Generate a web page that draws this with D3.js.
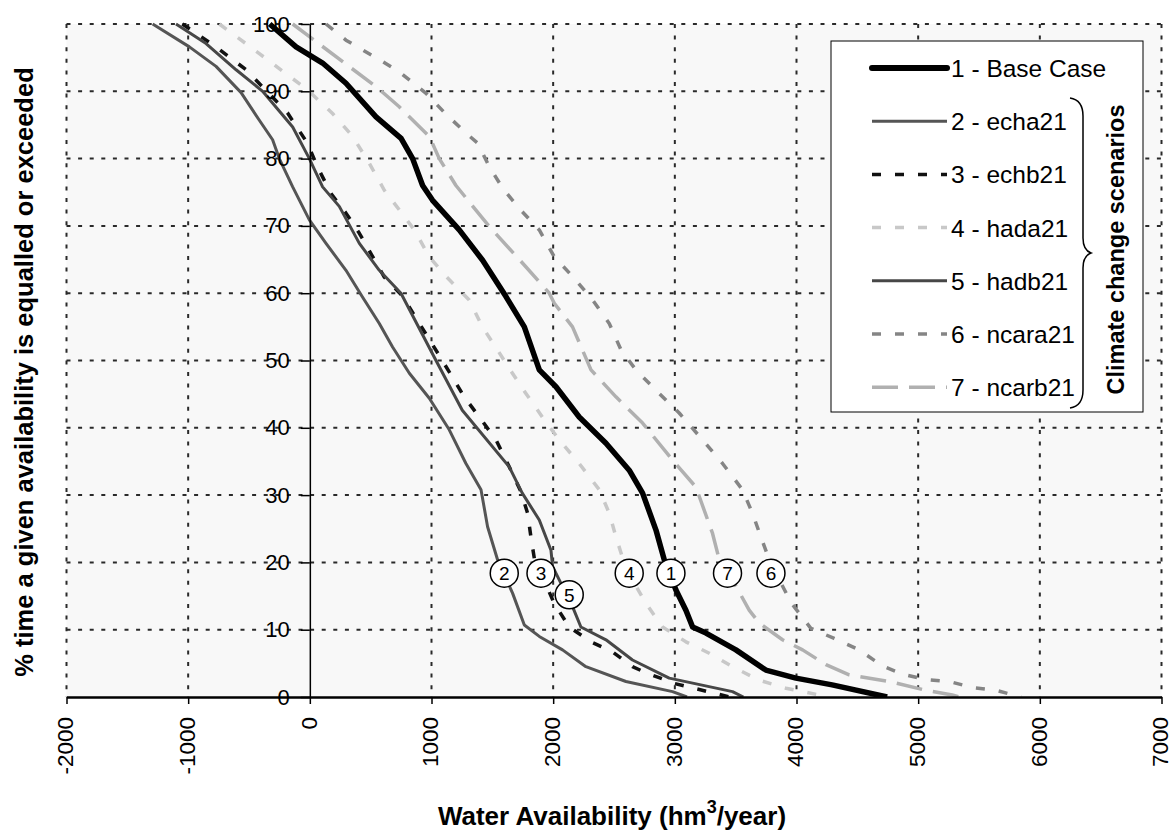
<!DOCTYPE html>
<html>
<head>
<meta charset="utf-8">
<style>
    body { margin: 0; background: #fff; }
    text { font-family: Arial, "Liberation Sans", sans-serif; }
    .grid line { stroke: #2a2a2a; stroke-width: 2; stroke-dasharray: 4, 7.6; }
    .axis path, .axis line { stroke: #000; }
</style>
<script src="https://d3js.org/d3.v7.min.js"></script>
</head>
<body>
<svg width="1173" height="831"></svg>
<script>

// each series: [water availability (hm3/year), % time equalled or exceeded]
var baseCase = [[-330,100],[-113,96.6],[105,94.2],[297,91.2],[544,86.2],[750,83],[845,80],[927,76],[1009,73.8],
    [1228,69.4],[1420,64.9],[1612,59.5],[1763,55],[1886,48.6],[2023,46.1],[2214,41.6],[2434,37.7],[2625,33.7],
    [2735,30.3],[2845,24.8],[2913,20.4],[3009,15.9],[3091,12.9],[3146,10.4],[3256,9.5],[3502,7],[3748,4],
    [3995,2.8],[4293,1.8],[4745,0]];
var echa21 = [[-1292,100],[-990,96.6],[-771,93.7],[-565,89.8],[-415,85.7],[-306,82.8],[-251,80],[-141,75.8],
    [-4,70.9],[133,67.4],[297,63.4],[430,59.5],[571,55.5],[680,52],[818,48.1],[982,44.4],[1146,39.7],[1283,34.7],
    [1407,30.8],[1461,25.3],[1543,20.4],[1667,15.4],[1763,10.7],[1886,9],[2077,7],[2269,4.5],[2598,2.3],
    [2981,0.8],[3100,0]];
var echb21 = [[-1048,100],[-771,96.6],[-524,93.2],[-184,86.8],[-20,82.3],[62,78.8],[174,74.8],[297,71.9],
    [407,68.9],[612,62.4],[760,59.6],[1089,50],[1269,44.6],[1393,41.6],[1530,38.2],[1639,34.2],[1735,30.5],
    [1790,27.3],[1817,23.8],[1845,20.6],[2009,13.9],[2132,10.4],[2311,8.2],[2488,6.7],[2652,4.5],[2776,3.5],
    [3000,2],[3450,0]];
var hada21 = [[-744,100],[-415,95.6],[-18,90.2],[187,86.7],[352,83.3],[489,79.3],[612,75.3],[735,72.4],
    [859,69.4],[982,65.4],[1119,62.5],[1310,59],[1418,55],[1541,51.6],[1665,48.1],[1776,45.1],[1911,41.6],
    [2050,38.2],[2214,34.7],[2379,30.8],[2461,27.3],[2516,23.8],[2600,19],[2763,13.9],[2899,10.4],[3091,8.2],
    [3283,6.5],[3474,4.5],[3693,2.5],[3913,1.3],[4268,0]];
var hadb21 = [[-1100,100],[-853,97.1],[-606,93.2],[-388,90],[-141,84.7],[-4,80],[105,75.8],[242,72.9],
    [407,67.4],[571,63.4],[749,60],[1037,50],[1253,42.6],[1639,34.2],[1746,30.3],[1886,26.3],[1982,21.8],
    [1995,19.4],[2105,15.4],[2160,13.4],[2228,10.4],[2434,8.5],[2652,5.5],[2954,2.8],[3474,0.8],[3563,0]];
var ncara21 = [[133,100],[297,97.6],[571,94.7],[735,92.9],[955,89.7],[1119,86.6],[1283,83.8],[1379,82.3],
    [1475,78.8],[1585,75.6],[1721,72.6],[1886,69.4],[2009,65.4],[2159,62.5],[2324,59],[2461,55.5],[2557,51.6],
    [2680,48.6],[2899,44.6],[3036,42.2],[3228,38.2],[3392,34.7],[3556,30.8],[3638,27.3],[3707,23.8],[3776,20.4],
    [3870,17],[3960,13.9],[4118,10.2],[4310,8.7],[4515,7],[4707,4.6],[4871,3.4],[5063,2.6],[5255,2.3],
    [5447,1.4],[5638,1],[5846,0]];
var ncarb21 = [[-141,100],[270,94.4],[544,90.7],[735,87.7],[982,83.3],[1064,80],[1201,76],[1475,69.9],
    [1777,63.9],[1968,60],[2009,58.5],[2159,55],[2311,48.6],[2516,44.6],[2735,40.7],[2981,35.2],[3173,31.2],
    [3310,24.3],[3365,20.4],[3474,17.4],[3611,12.9],[3693,11],[3885,8.5],[4050,7],[4242,4.8],[4433,3.3],
    [4762,2.3],[5063,1],[5280,0.3],[5336,0]];

var seriesNames = ["1 - Base Case", "2 - echa21", "3 - echb21", "4 - hada21", "5 - hadb21", "6 - ncara21", "7 - ncarb21"];
var seriesData = [baseCase, echa21, echb21, hada21, hadb21, ncara21, ncarb21];

// circled curve labels
var labelText = ["2", "3", "5", "4", "1", "7", "6"];
var labelX = [1598, 1900, 2132, 2625, 2968, 3433, 3790];
var labelP = [18.4, 18.4, 15.2, 18.4, 18.4, 18.4, 18.4];

var xTicks = d3.range(-2000, 7001, 1000);
var yTicks = d3.range(0, 101, 10);

var styles = [
    {color: "#000",    width: 5.5, dash: null},
    {color: "#555",    width: 3,   dash: null},
    {color: "#111",    width: 3.5, dash: "9,14"},
    {color: "#c8c8c8", width: 3.5, dash: "9,14"},
    {color: "#474747", width: 3,   dash: null},
    {color: "#858585", width: 3.5, dash: "9,14"},
    {color: "#b0b0b0", width: 3.5, dash: "26,11"}
];

var svg = d3.select("svg");

var x = d3.scaleLinear().domain([-2000, 7000]).range([66.5, 1161.5]),
    y = d3.scaleLinear().domain([0, 100]).range([697, 24]);

svg.append("rect")
    .attr("x", x(-2000)).attr("y", y(100))
    .attr("width", x(7000) - x(-2000)).attr("height", y(0) - y(100))
    .attr("fill", "#f8f8f8");

svg.append("clipPath").attr("id", "plot")
  .append("rect")
    .attr("x", x(-2000)).attr("y", y(100) - 3)
    .attr("width", x(7000) - x(-2000)).attr("height", y(0) - y(100) + 3);

// dotted grid
var grid = svg.append("g").attr("class", "grid");
grid.selectAll(".h").data(yTicks.filter(function(d) { return d > 0; }))
  .enter().append("line")
    .attr("x1", x(-2000)).attr("x2", x(7000))
    .attr("y1", function(d) { return y(d); })
    .attr("y2", function(d) { return y(d); });
grid.selectAll(".v").data(xTicks.filter(function(d) { return d !== 0; }))
  .enter().append("line")
    .attr("x1", function(d) { return x(d); })
    .attr("x2", function(d) { return x(d); })
    .attr("y1", y(100)).attr("y2", y(0));

// curves
var line = d3.line()
    .x(function(d) { return x(d[0]); })
    .y(function(d) { return y(d[1]); });

svg.append("g").attr("clip-path", "url(#plot)")
  .selectAll("path")
  .data(seriesData)
  .enter().append("path")
    .attr("fill", "none")
    .attr("stroke", function(d, i) { return styles[i].color; })
    .attr("stroke-width", function(d, i) { return styles[i].width; })
    .attr("stroke-dasharray", function(d, i) { return styles[i].dash; })
    .attr("stroke-linejoin", "round")
    .attr("d", line);

// axes through the origin
var plainNum = function(d) { return String(d); };

var yAxis = svg.append("g")
    .attr("class", "axis")
    .attr("transform", "translate(" + x(0) + ",0)")
    .call(d3.axisLeft(y).tickValues(yTicks).tickFormat(plainNum).tickSize(9).tickSizeOuter(0).tickPadding(11));
yAxis.select(".domain").attr("stroke-width", 1.5);
yAxis.selectAll(".tick line").attr("stroke-width", 1.5);
yAxis.selectAll("text").attr("font-size", 22).attr("fill", "#000")
    .attr("font-family", "Arial, 'Liberation Sans', sans-serif");

var xAxis = svg.append("g")
    .attr("class", "axis")
    .attr("transform", "translate(0," + y(0) + ")")
    .call(d3.axisBottom(x).tickValues(xTicks).tickFormat(plainNum).tickSize(7).tickSizeOuter(0));
xAxis.select(".domain").attr("stroke-width", 2.5);
xAxis.selectAll(".tick line").attr("stroke-width", 1.5);
xAxis.selectAll("text")
    .attr("font-size", 22.5).attr("fill", "#000")
    .attr("font-family", "Arial, 'Liberation Sans', sans-serif")
    .attr("transform", "rotate(-90)")
    .attr("text-anchor", "end")
    .attr("x", -20).attr("y", 0).attr("dy", "0.28em");

// circled labels
var labels = svg.selectAll(".lbl")
    .data(labelText)
  .enter().append("g")
    .attr("transform", function(d, i) { return "translate(" + x(labelX[i]) + "," + y(labelP[i]) + ")"; });
labels.append("circle").attr("r", 14).attr("fill", "#fff").attr("stroke", "#000").attr("stroke-width", 1.5);
labels.append("text")
    .attr("text-anchor", "middle").attr("dy", "0.36em")
    .attr("font-size", 19)
    .text(function(d) { return d; });

// legend
var legend = svg.append("g");
legend.append("rect")
    .attr("x", 831).attr("y", 41).attr("width", 312).attr("height", 371)
    .attr("fill", "#fff").attr("stroke", "#000").attr("stroke-width", 1);

var entry = legend.selectAll(".entry")
    .data(seriesNames)
  .enter().append("g")
    .attr("transform", function(d, i) { return "translate(0," + (68 + i * 53.2) + ")"; });
entry.append("line")
    .attr("x1", 872).attr("x2", 947)
    .attr("stroke", function(d, i) { return styles[i].color; })
    .attr("stroke-width", function(d, i) { return i === 0 ? 6 : styles[i].width; })
    .attr("stroke-dasharray", function(d, i) { return styles[i].dash; })
    .attr("stroke-linecap", function(d, i) { return i === 0 ? "round" : "butt"; });
entry.append("text")
    .attr("x", 951).attr("y", 9)
    .attr("font-size", 24.5)
    .text(function(d) { return d; });

legend.append("path")
    .attr("d", "M1070,98 Q1083,100 1083,116 L1083,238 Q1083,250 1091,253 Q1083,256 1083,268 L1083,390 Q1083,406 1070,408")
    .attr("fill", "none").attr("stroke", "#000").attr("stroke-width", 1.5);

legend.append("text")
    .attr("transform", "translate(1124,249.5) rotate(-90)")
    .attr("text-anchor", "middle")
    .attr("font-size", 23.5).attr("font-weight", "bold")
    .text("Climate change scenarios");

// axis titles
svg.append("text")
    .attr("transform", "translate(33,372) rotate(-90)")
    .attr("text-anchor", "middle")
    .attr("font-size", 25.5).attr("font-weight", "bold")
    .text("% time a given availability is equalled or exceeded");

var xt = svg.append("text")
    .attr("x", 612).attr("y", 825)
    .attr("text-anchor", "middle")
    .attr("font-size", 26).attr("font-weight", "bold");
xt.append("tspan").text("Water Availability (hm");
xt.append("tspan").attr("dy", -12).attr("font-size", 18).text("3");
xt.append("tspan").attr("dy", 12).text("/year)");

</script>
</body>
</html>
